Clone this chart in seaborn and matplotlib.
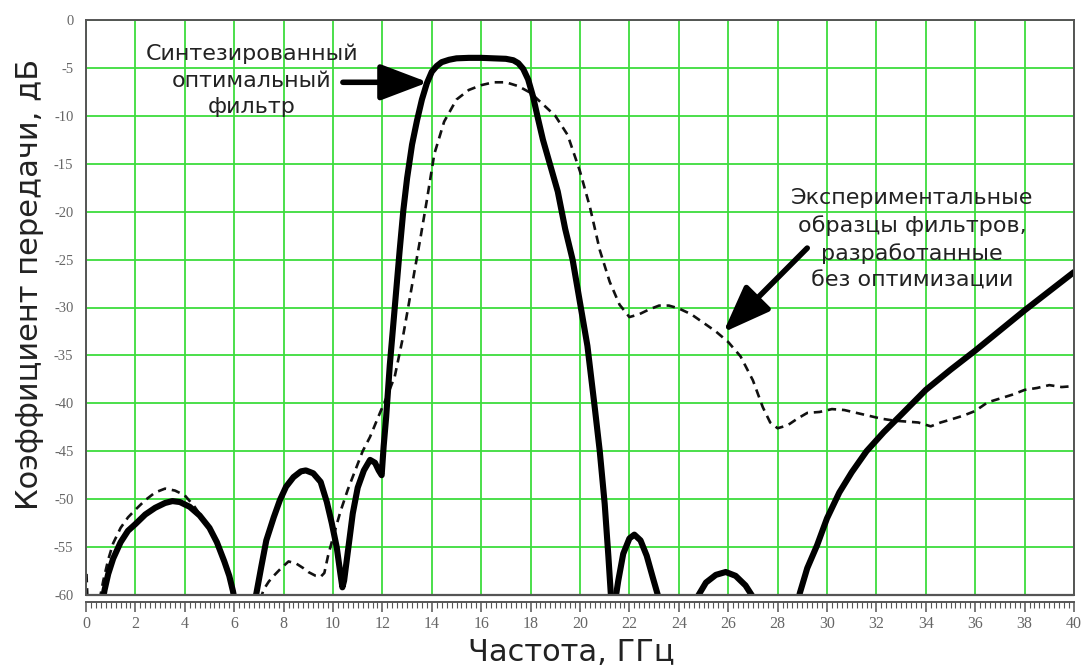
import numpy as np
import pandas as pd
import matplotlib
matplotlib.use("Agg")
import matplotlib.pyplot as plt
from matplotlib.ticker import MultipleLocator
import seaborn as sns

# --- Synthesized optimal filter: S21 (dB) vs frequency (GHz), one list per lobe ---
opt_f = [
    [0.62, 0.75, 0.9, 1.1, 1.4, 1.7, 2.0, 2.4, 2.8, 3.2, 3.5, 3.8, 4.2, 4.6, 5.0,
     5.3, 5.6, 5.8, 5.95, 6.05],
    [6.75, 6.9, 7.1, 7.3, 7.6, 7.85, 8.1, 8.4, 8.7, 8.9, 9.2, 9.5, 9.75, 9.95,
     10.15, 10.3, 10.38, 10.45, 10.6, 10.8, 11.0, 11.25, 11.5, 11.7, 11.85, 11.97,
     12.05, 12.15, 12.3, 12.5, 12.7, 12.85, 13.0, 13.2, 13.4, 13.6, 13.8, 14.0,
     14.2, 14.4, 14.7, 15.0, 15.5, 16.0, 16.5, 17.0, 17.3, 17.5, 17.7, 17.9, 18.1,
     18.3, 18.5, 18.8, 19.1, 19.4, 19.7, 20.0, 20.3, 20.6, 20.8, 21.0, 21.15, 21.3],
    [21.4, 21.55, 21.75, 22.0, 22.2, 22.45, 22.7, 22.95, 23.15, 23.3],
    [24.6, 24.8, 25.1, 25.5, 25.9, 26.3, 26.7, 26.95, 27.1],
    [28.75, 28.9, 29.2, 29.6, 30.0, 30.5, 31.0, 31.6, 32.3, 33.0, 34.0, 35.0,
     36.0, 37.0, 38.0, 39.0, 40.0],
]
opt_db = [
    [-61.5, -59.5, -57.8, -56.2, -54.5, -53.3, -52.6, -51.6, -50.9, -50.4, -50.2,
     -50.3, -50.8, -51.7, -53.0, -54.5, -56.5, -58.0, -59.6, -61.0],
    [-61.5, -59.8, -57.0, -54.3, -51.9, -50.1, -48.7, -47.7, -47.1, -47.0, -47.3,
     -48.2, -50.3, -52.5, -55.0, -57.8, -59.2, -58.5, -55.5, -51.5, -48.8, -47.0,
     -45.9, -46.2, -47.0, -47.5, -44.5, -41.5, -36.0, -30.0, -24.0, -19.8, -16.5,
     -13.0, -10.5, -8.3, -6.6, -5.4, -4.8, -4.4, -4.15, -4.0, -3.95, -3.95, -4.0,
     -4.05, -4.2, -4.5, -5.1, -6.2, -8.0, -10.3, -12.5, -15.2, -17.9, -21.8, -25.0,
     -29.5, -34.0, -40.5, -45.0, -50.5, -56.0, -62.0],
    [-61.0, -58.5, -55.7, -54.1, -53.7, -54.3, -55.9, -58.2, -60.0, -61.5],
    [-61.2, -60.0, -58.7, -57.9, -57.6, -58.0, -59.0, -60.0, -60.8],
    [-61.5, -59.8, -57.2, -54.8, -52.0, -49.3, -47.2, -45.0, -43.0, -41.2, -38.6,
     -36.5, -34.5, -32.4, -30.3, -28.3, -26.3],
]

# --- Experimental filter samples designed without optimization ---
exp_f = [
    [0.02, 0.06],
    [0.55, 0.7, 0.9, 1.1, 1.4, 1.7, 2.0, 2.4, 2.8, 3.2, 3.6, 4.0, 4.4, 4.8, 5.2,
     5.6, 5.9, 6.05],
    [7.05, 7.2, 7.4, 7.6, 7.9, 8.2, 8.5, 8.8, 9.0, 9.3, 9.5, 9.65, 9.8, 10.0,
     10.3, 10.6, 10.9, 11.2, 11.5, 11.9, 12.2, 12.5, 12.8, 13.05, 13.3, 13.55,
     13.8, 14.1, 14.5, 15.0, 15.5, 16.0, 16.5, 17.0, 17.5, 18.0, 18.5, 19.0, 19.5,
     20.0, 20.4, 20.8, 21.2, 21.6, 22.0, 22.4, 22.8, 23.2, 23.6, 24.0, 24.5, 25.0,
     25.5, 26.0, 26.5, 27.0, 27.4, 27.7, 28.0, 28.4, 28.8, 29.2, 29.7, 30.2, 30.7,
     31.2, 31.7, 32.2, 32.7, 33.2, 33.7, 34.2, 34.6, 35.0, 35.5, 36.0, 36.5, 37.0,
     37.5, 38.0, 38.5, 39.0, 39.5, 40.0],
]
exp_db = [
    [-57.8, -60.5],
    [-60.5, -58.5, -56.3, -54.6, -53.0, -51.9, -51.1, -50.1, -49.3, -48.9, -49.1,
     -49.6, -50.8, -52.3, -54.0, -56.4, -58.8, -60.8],
    [-60.5, -59.4, -58.6, -58.0, -57.2, -56.5, -56.7, -57.2, -57.6, -58.0, -58.1,
     -57.7, -55.9, -54.0, -51.3, -49.0, -47.0, -45.0, -43.5, -41.0, -39.2, -37.2,
     -33.5, -29.9, -26.2, -22.6, -18.8, -14.0, -10.6, -8.3, -7.3, -6.8, -6.5, -6.5,
     -6.9, -7.6, -8.8, -10.0, -12.0, -15.8, -19.5, -24.0, -27.3, -29.7, -31.0,
     -30.7, -30.2, -29.8, -29.8, -30.1, -30.7, -31.6, -32.5, -33.6, -35.1, -37.6,
     -40.4, -42.0, -42.6, -42.3, -41.6, -41.0, -40.9, -40.6, -40.7, -41.0, -41.3,
     -41.6, -41.8, -41.9, -42.0, -42.4, -42.0, -41.7, -41.3, -40.8, -39.9, -39.5,
     -39.1, -38.6, -38.4, -38.1, -38.3, -38.2],
]

x_ticks = list(range(0, 41, 2))
y_ticks = list(range(-60, 1, 5))
x_label = "Частота, ГГц"
y_label = "Коэффициент передачи, дБ"
note_opt = "Синтезированный\nоптимальный\nфильтр"
note_exp = "Экспериментальные\nобразцы фильтров,\nразработанные\nбез оптимизации"


def to_frame(freqs, vals):
    parts = [pd.DataFrame({"f": f, "db": v, "seg": i})
             for i, (f, v) in enumerate(zip(freqs, vals))]
    return pd.concat(parts, ignore_index=True)


df_opt = to_frame(opt_f, opt_db)
df_exp = to_frame(exp_f, exp_db)

sns.set_style("white")
plt.rcParams["font.family"] = ["DejaVu Sans"]
plt.rcParams["axes.unicode_minus"] = False

W, H = 1086, 669
fig = plt.figure(figsize=(W / 100, H / 100), dpi=100)
L, R, T, B = 86, 1074, 20, 595
ax = fig.add_axes([L / W, 1 - B / H, (R - L) / W, (B - T) / H])

grid_c = "#3ddc3d"
frame_c = "#555555"

ax.set_xlim(0, 40)
ax.set_ylim(-60, 0)
ax.set_xticks(x_ticks)
ax.set_yticks(y_ticks)
ax.xaxis.set_minor_locator(MultipleLocator(0.2))
ax.grid(True, which="major", color=grid_c, lw=1.3)
ax.set_axisbelow(True)

sns.lineplot(data=df_exp, x="f", y="db", units="seg", estimator=None, sort=False,
             color="#111111", lw=1.9, linestyle=(0, (3.2, 2.2)), ax=ax,
             legend=False)
sns.lineplot(data=df_opt, x="f", y="db", units="seg", estimator=None, sort=False,
             color="black", lw=4.4, ax=ax, legend=False,
             solid_capstyle="round", solid_joinstyle="round")
ax.set_xlabel("")
ax.set_ylabel("")

# frame and the offset frequency ruler below it
for s in ("left", "right", "top"):
    ax.spines[s].set_visible(True)
    ax.spines[s].set_color(frame_c)
    ax.spines[s].set_linewidth(1.4)
ax.spines["bottom"].set_position(("outward", 5))
ax.spines["bottom"].set_color(frame_c)
ax.spines["bottom"].set_linewidth(1.4)
ax.axhline(-60, color=frame_c, lw=1.6, clip_on=False, zorder=3)

tick_font = dict(family="Liberation Serif", size=11.5, color="#666666")
ax.tick_params(axis="x", which="major", direction="out", length=7, width=1.1,
               color=frame_c, pad=3, bottom=True)
ax.tick_params(axis="x", which="minor", direction="out", length=4, width=0.8,
               color=frame_c, bottom=True)
ax.tick_params(axis="y", length=0, pad=9)
ax.set_xticklabels([str(v) for v in x_ticks], fontdict=tick_font)
ax.set_yticklabels([str(v) for v in y_ticks],
                   fontdict=dict(family="Liberation Serif", size=10.5,
                                 color="#666666"))

# axis titles
fig.text(571 / W, 1 - 661 / H, x_label, ha="center", va="baseline",
         fontsize=22, color="#222222")
fig.text(30 / W, 1 - 284 / H, y_label, ha="center", va="center",
         rotation=90, fontsize=22, color="#222222")

# annotations
txt_c = "#222222"
ax.text(6.72, -6.3, note_opt, ha="center", va="center", multialignment="center",
        fontsize=16, color=txt_c, linespacing=1.42)
ax.text(33.45, -22.9, note_exp, ha="center", va="center", multialignment="center",
        fontsize=16, color=txt_c, linespacing=1.42)

arrow_kw = dict(arrowstyle="-|>,head_length=1.45,head_width=0.55", lw=4.0,
                color="black", shrinkA=0, shrinkB=0, mutation_scale=20)
ax.annotate("", xy=(13.85, -6.5), xytext=(10.4, -6.5), arrowprops=arrow_kw)
ax.annotate("", xy=(25.8, -32.6), xytext=(29.2, -23.8), arrowprops=arrow_kw)

fig.savefig("out.png", dpi=100, facecolor="white")
